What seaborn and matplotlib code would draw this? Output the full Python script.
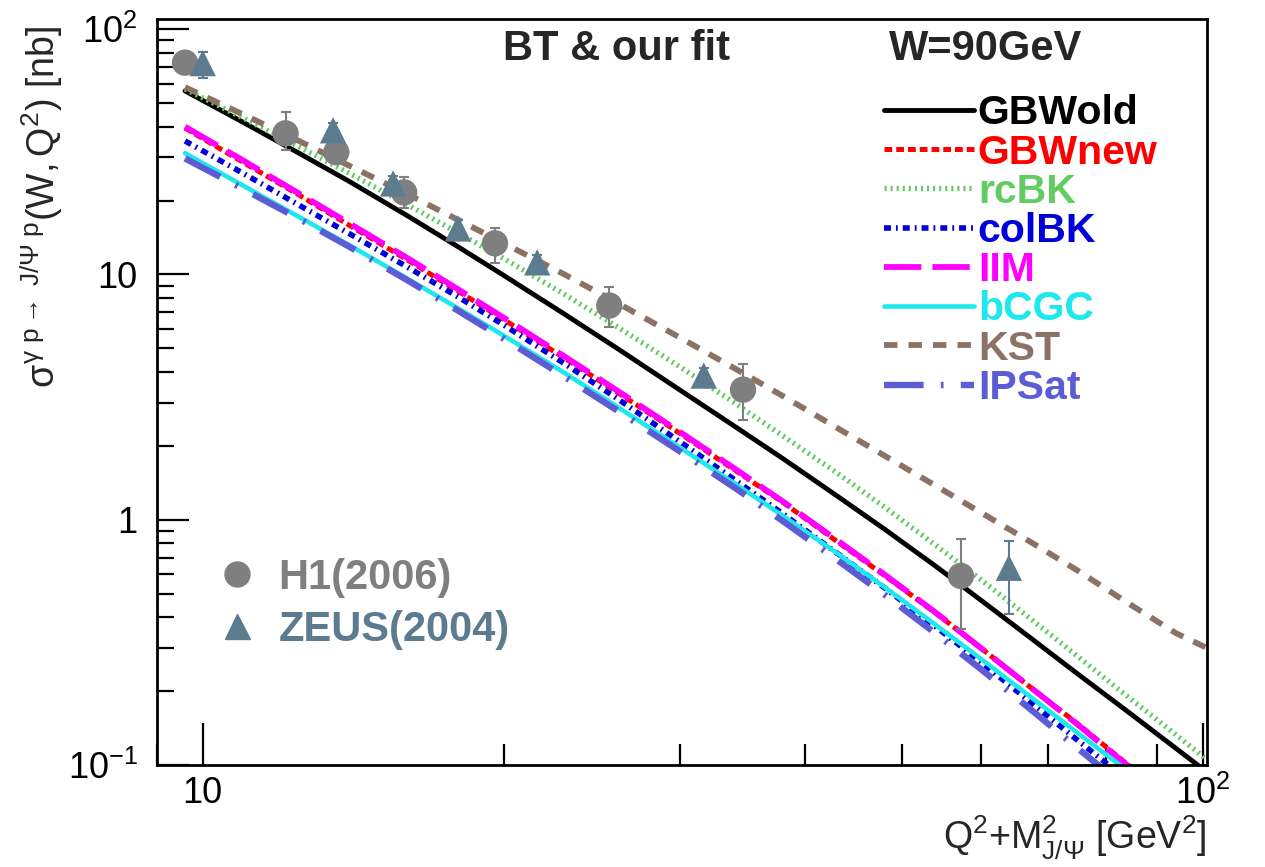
import numpy as np
import pandas as pd
import seaborn as sns
import matplotlib.pyplot as plt
from matplotlib.lines import Line2D
from matplotlib.ticker import FixedLocator, FuncFormatter, NullFormatter

# ------------------------------ data ----------------------------------
q2_grid = [9.6, 11, 12.5, 14, 16, 18, 20, 23, 26, 30, 34, 38, 43, 48, 54, 60,
           67, 75, 84, 94, 101]

gbw_old = [56, 41.5, 31.1, 24.0, 17.4, 12.97, 9.91, 6.89, 4.98, 3.38, 2.41,
           1.78, 1.257, 0.919, 0.649, 0.470, 0.334, 0.235, 0.166, 0.117,
           0.0935]
gbw_new = [39.5, 28.5, 21.0, 15.9, 11.5, 8.55, 6.55, 4.56, 3.3, 2.25, 1.6,
           1.18, 0.82, 0.595, 0.418, 0.30, 0.21, 0.147, 0.101, 0.071, 0.057]
rc_bk = [57, 43.2, 33.0, 25.9, 19.3, 14.8, 11.6, 8.3, 6.1, 4.2, 3.0, 2.2,
         1.56, 1.13, 0.79, 0.57, 0.40, 0.277, 0.191, 0.133, 0.105]
col_bk = [35, 25.7, 19.1, 14.7, 10.75, 8.1, 6.22, 4.33, 3.11, 2.08, 1.46,
          1.06, 0.735, 0.53, 0.368, 0.263, 0.183, 0.126, 0.087, 0.061, 0.049]
iim = [40, 29.0, 21.3, 16.2, 11.7, 8.7, 6.66, 4.63, 3.35, 2.28, 1.62, 1.19,
       0.83, 0.60, 0.42, 0.30, 0.21, 0.146, 0.10, 0.07, 0.056]
bcgc = [31.2, 22.9, 17.1, 13.2, 9.64, 7.28, 5.63, 3.97, 2.88, 1.97, 1.41,
        1.04, 0.735, 0.533, 0.374, 0.271, 0.192, 0.135, 0.095, 0.067, 0.054]
kst = [58, 44.7, 34.9, 27.8, 21.3, 16.7, 13.4, 10.0, 7.64, 5.53, 4.15, 3.2,
       2.38, 1.83, 1.38, 1.07, 0.82, 0.62, 0.46, 0.345, 0.30]
ipsat = [29.7, 22.2, 16.8, 13.0, 9.5, 7.12, 5.47, 3.83, 2.78, 1.90, 1.355,
         0.99, 0.69, 0.497, 0.345, 0.246, 0.171, 0.117, 0.08, 0.056, 0.045]

models = ["GBWold", "GBWnew", "rcBK", "colBK", "IIM", "bCGC", "KST", "IPSat"]
model_values = [gbw_old, gbw_new, rc_bk, col_bk, iim, bcgc, kst, ipsat]

h1_x = [9.6, 12.1, 13.6, 15.9, 19.6, 25.5, 34.7, 57.3]
h1_y = [73, 37.6, 31.5, 21.6, 13.4, 7.47, 3.39, 0.59]
h1_lo = [69, 32.1, 29.0, 18.7, 11.1, 6.1, 2.56, 0.36]
h1_hi = [77, 45.8, 34.0, 24.9, 15.4, 8.9, 4.3, 0.835]

zeus_x = [10.0, 13.5, 15.5, 18.0, 21.6, 31.7, 64.0]
zeus_y = [72.7, 38.7, 23.5, 15.4, 11.2, 3.87, 0.637]
zeus_lo = [63, 36.0, 21.7, 14.2, 10.4, 3.6, 0.413]
zeus_hi = [81, 41.5, 25.3, 16.7, 12.0, 4.15, 0.82]

# --------------------------- styles -----------------------------------
colors = {"GBWold": "#000000", "GBWnew": "#ff0000", "rcBK": "#62cc62",
          "colBK": "#0000d8", "IIM": "#ff00ff", "bCGC": "#1ee8ee",
          "KST": "#8c7264", "IPSat": "#5c5cd4"}
dashes = {"GBWold": "", "GBWnew": (1.55, 0.8), "rcBK": (0.4, 0.75),
          "colBK": (1.25, 0.9, 0.33, 0.9), "IIM": (6.4, 1.9), "bCGC": "",
          "KST": (2.3, 1.9), "IPSat": (6.2, 2.7, 0.42, 2.7)}
widths = {"GBWold": 3.5, "GBWnew": 3.6, "rcBK": 3.8, "colBK": 4.0,
          "IIM": 4.2, "bCGC": 3.3, "KST": 4.2, "IPSat": 4.6}
h1_color = "#7f7f7f"
zeus_color = "#5d7b8f"

rows = []
for name, vals in zip(models, model_values):
    for q, v in zip(q2_grid, vals):
        rows.append({"q2": q, "sigma": v, "model": name})
curves = pd.DataFrame(rows)

data = pd.concat([
    pd.DataFrame({"q2": h1_x, "sigma": h1_y, "exp": "H1(2006)"}),
    pd.DataFrame({"q2": zeus_x, "sigma": zeus_y, "exp": "ZEUS(2004)"}),
])

# ---------------------------- plot ------------------------------------
sns.set_style("white")
plt.rcParams["font.family"] = ["Liberation Sans", "DejaVu Sans"]
plt.rcParams["mathtext.fontset"] = "custom"
plt.rcParams["mathtext.rm"] = "Liberation Sans"
plt.rcParams["mathtext.it"] = "Liberation Sans"
plt.rcParams["mathtext.bf"] = "Liberation Sans:bold"

fig = plt.figure(figsize=(12.65, 8.67), dpi=100)
ax = fig.add_axes([157 / 1265, 1 - 765 / 867, 1050 / 1265, 746 / 867])

sns.lineplot(data=curves, x="q2", y="sigma", hue="model", style="model",
             hue_order=models, style_order=models, palette=colors,
             dashes=dashes, errorbar=None, legend=False, ax=ax)
model_lines = ax.get_lines()[:len(models)]
for line, name in zip(model_lines, models):
    line.set_linewidth(widths[name])

ax.errorbar(h1_x, h1_y,
            yerr=[np.subtract(h1_y, h1_lo), np.subtract(h1_hi, h1_y)],
            fmt="none", ecolor=h1_color, elinewidth=1.5, capsize=3.5,
            capthick=1.5, zorder=5)
ax.errorbar(zeus_x, zeus_y,
            yerr=[np.subtract(zeus_y, zeus_lo), np.subtract(zeus_hi, zeus_y)],
            fmt="none", ecolor=zeus_color, elinewidth=1.5, capsize=3.5,
            capthick=1.5, zorder=5)
sns.scatterplot(data=data, x="q2", y="sigma", hue="exp", style="exp",
                palette={"H1(2006)": h1_color, "ZEUS(2004)": zeus_color},
                markers={"H1(2006)": "o", "ZEUS(2004)": "^"},
                s=360, linewidth=0, legend=False, zorder=6, ax=ax)

ax.set_xscale("log")
ax.set_yscale("log")
ax.set_xlim(9.0, 101)
ax.set_ylim(0.1, 110)

# ticks, ROOT-like
ax.xaxis.set_major_locator(FixedLocator([10, 100]))
ax.xaxis.set_minor_locator(FixedLocator([9] + list(range(20, 100, 10))))
ax.yaxis.set_major_locator(FixedLocator([0.1, 1, 10, 100]))
ax.yaxis.set_minor_locator(FixedLocator(
    [k * 0.1 for k in range(2, 10)] + list(range(2, 10)) +
    list(range(20, 100, 10))))
labels = {0.1: r"$10^{-1}$", 1: "1", 10: "10", 100: r"$10^{2}$"}
fmt = FuncFormatter(lambda v, p: labels.get(round(v, 3), ""))
ax.xaxis.set_major_formatter(fmt)
ax.yaxis.set_major_formatter(fmt)
ax.xaxis.set_minor_formatter(NullFormatter())
ax.yaxis.set_minor_formatter(NullFormatter())
ax.tick_params(axis="both", which="both", direction="in", width=1.6,
               colors="black", labelsize=26, bottom=True, left=True,
               top=False, right=False)
ax.tick_params(axis="x", which="major", length=30, pad=8)
ax.tick_params(axis="x", which="minor", length=15)
ax.tick_params(axis="y", which="major", length=23, pad=14)
ax.tick_params(axis="y", which="minor", length=12)
for sp in ax.spines.values():
    sp.set_linewidth(2.0)
    sp.set_color("black")

ax.set_xlabel("")
ax.set_ylabel("")
ax.text(-0.11, 0.748,
        r"$\sigma^{\gamma\ \mathrm{p} \rightarrow\ \mathrm{J}/\Psi\ \mathrm{p}}"
        r"(\mathrm{W},\mathrm{Q}^{2})$ [nb]",
        rotation=90, ha="center", va="center", fontsize=27,
        transform=ax.transAxes)
ax.text(1.0, -0.066, r"Q$^{2}$+M$^{2}_{\mathrm{J}/\Psi}$ [GeV$^{2}$]",
        ha="right", va="top", fontsize=27, transform=ax.transAxes)

ax.text(0.438, 0.96, "BT & our fit", ha="center", va="center",
        fontsize=30, fontweight="bold", transform=ax.transAxes)
ax.text(0.789, 0.96, "W=90GeV", ha="center", va="center",
        fontsize=30, fontweight="bold", transform=ax.transAxes)

# model legend (coloured labels)
leg = ax.legend(model_lines, models, loc="upper left",
                bbox_to_anchor=(0.692, 0.899), frameon=False,
                prop={"size": 29.5, "weight": "bold"},
                labelcolor=[colors[m] for m in models],
                handlelength=2.2, handletextpad=0.1, labelspacing=0.03,
                borderpad=0, borderaxespad=0)
ax.add_artist(leg)

# data legend
data_handles = [
    Line2D([], [], ls="", marker="o", markersize=18, color=h1_color),
    Line2D([], [], ls="", marker="^", markersize=18, color=zeus_color),
]
ax.legend(data_handles, ["H1(2006)", "ZEUS(2004)"], loc="upper left",
          bbox_to_anchor=(0.058, 0.2775), frameon=False,
          prop={"size": 30, "weight": "bold"},
          labelcolor=[h1_color, zeus_color], handlelength=0.9,
          handletextpad=0.55, labelspacing=0.28, borderpad=0,
          borderaxespad=0)

fig.savefig("out.png", dpi=100)
